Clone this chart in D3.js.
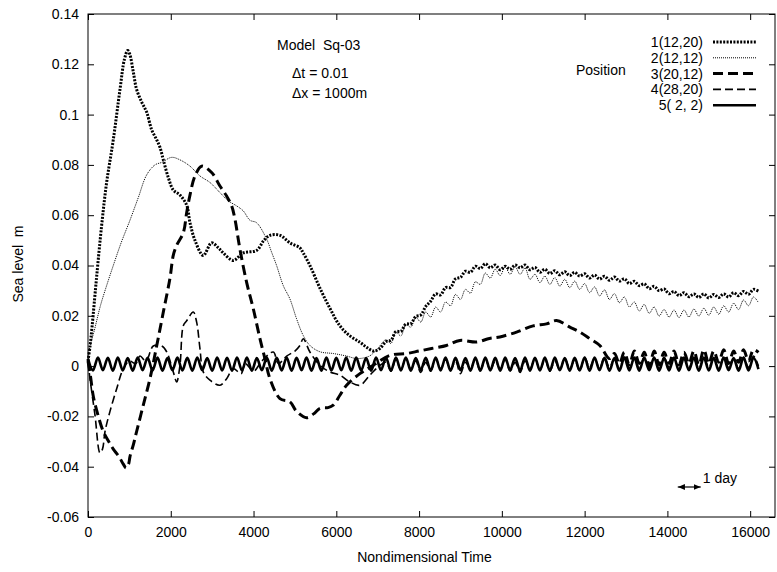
<!DOCTYPE html>
<html>
<head>
<meta charset="utf-8">
<script src="https://cdn.jsdelivr.net/npm/d3@7"></script>
<style>
    body { margin: 0; background: #fff; }
    svg text { font-family: "Liberation Sans", Arial, sans-serif; font-size: 14px; fill: #000; }
</style>
</head>
<body>
<div id="chart"></div>
<script>
// time step of the tidal wiggle samples (nondimensional time)
var DT = 120;

var xTicks = [0, 2000, 4000, 6000, 8000, 10000, 12000, 14000, 16000];
var yTicks = [-0.06, -0.04, -0.02, 0, 0.02, 0.04, 0.06, 0.08, 0.1, 0.12, 0.14];

var legendNames = ['1(12,20)', '2(12,12)', '3(20,12)', '4(28,20)', '5( 2, 2)'];

// series 1 : position (12,20)
var s1Head = [[0, 0.002], [50, 0.008], [100, 0.016], [200, 0.034], [330, 0.056], [450, 0.073], [611, 0.090],
    [773, 0.110], [880, 0.122], [960, 0.1255], [1010, 0.124], [1094, 0.117], [1175, 0.110], [1297, 0.105],
    [1417, 0.101], [1538, 0.094], [1659, 0.090], [1739, 0.087], [1820, 0.082], [1940, 0.075], [2061, 0.070],
    [2222, 0.068], [2384, 0.064], [2464, 0.057], [2585, 0.050], [2785, 0.044], [2987, 0.049], [3150, 0.047],
    [3268, 0.045], [3510, 0.042], [3752, 0.045], [4074, 0.046], [4250, 0.050], [4396, 0.052], [4638, 0.052],
    [4879, 0.049], [5121, 0.047], [5200, 0.045], [5362, 0.040], [5604, 0.031], [5845, 0.023], [6087, 0.016],
    [6329, 0.012], [6570, 0.0095], [6731, 0.0075], [6900, 0.006], [7053, 0.007]];
var s1TailStart = 7200;
var s1Tail = [0.0097, 0.0103, 0.0137, 0.0138, 0.0167, 0.0168, 0.0197, 0.0203, 0.0237, 0.0258,
    0.0287, 0.0283, 0.0312, 0.0313, 0.0347, 0.0353, 0.0377, 0.0373, 0.0397, 0.0388,
    0.0407, 0.0391, 0.0402, 0.0383, 0.0397, 0.0385, 0.0402, 0.0391, 0.0402, 0.0383,
    0.0392, 0.0373, 0.0385, 0.0368, 0.0379, 0.0363, 0.0375, 0.0360, 0.0373, 0.0358,
    0.0367, 0.0350, 0.0362, 0.0346, 0.0357, 0.0341, 0.0354, 0.0338, 0.0347, 0.0328,
    0.0337, 0.0320, 0.0327, 0.0308, 0.0317, 0.0300, 0.0307, 0.0288, 0.0297, 0.0280,
    0.0292, 0.0276, 0.0287, 0.0273, 0.0287, 0.0271, 0.0285, 0.0273, 0.0287, 0.0275,
    0.0292, 0.0280, 0.0297, 0.0286, 0.0305, 0.0298];

// series 2 : position (12,12)
var s2Head = [[0, 0.002], [50, 0.008], [150, 0.014], [300, 0.024], [450, 0.032], [611, 0.040], [800, 0.049],
    [1014, 0.058], [1215, 0.067], [1417, 0.076], [1618, 0.080], [1780, 0.081], [2021, 0.083], [2222, 0.082],
    [2464, 0.0795], [2705, 0.0756], [2947, 0.073], [3188, 0.069], [3390, 0.0657], [3591, 0.0637], [3752, 0.0617],
    [3913, 0.058], [4074, 0.057], [4316, 0.0505], [4436, 0.0453], [4557, 0.040], [4718, 0.032], [4879, 0.0267],
    [5040, 0.0188], [5200, 0.0122], [5362, 0.0082], [5604, 0.0057], [5926, 0.005], [6248, 0.004], [6500, 0.003],
    [6800, 0.004], [7000, 0.007]];
var s2TailStart = 7200;
var s2Tail = [0.0105, 0.0090, 0.0135, 0.0120, 0.0165, 0.0155, 0.0195, 0.0175, 0.0215, 0.0195,
    0.0235, 0.0215, 0.0255, 0.0240, 0.0285, 0.0265, 0.0305, 0.0290, 0.0335, 0.0325,
    0.0370, 0.0350, 0.0385, 0.0360, 0.0395, 0.0365, 0.0395, 0.0365, 0.0390, 0.0345,
    0.0365, 0.0332, 0.0358, 0.0325, 0.0352, 0.0318, 0.0345, 0.0312, 0.0338, 0.0305,
    0.0328, 0.0292, 0.0315, 0.0279, 0.0303, 0.0265, 0.0288, 0.0252, 0.0275, 0.0235,
    0.0255, 0.0219, 0.0245, 0.0210, 0.0235, 0.0199, 0.0225, 0.0195, 0.0223, 0.0193,
    0.0223, 0.0195, 0.0227, 0.0199, 0.0230, 0.0202, 0.0235, 0.0206, 0.0240, 0.0215,
    0.0250, 0.0225, 0.0263, 0.0240, 0.0275, 0.0252];

// series 3 : position (20,12)
var s3Head = [[0, 0.002], [60, -0.004], [128, -0.012], [250, -0.020], [370, -0.026], [500, -0.030], [611, -0.033],
    [750, -0.036], [853, -0.039], [920, -0.0405], [980, -0.039], [1014, -0.036], [1100, -0.031], [1175, -0.026],
    [1336, -0.0155], [1497, -0.005], [1659, 0.008], [1820, 0.0215], [1981, 0.035], [2060, 0.044], [2142, 0.048],
    [2303, 0.053], [2384, 0.061], [2464, 0.068], [2585, 0.0756], [2746, 0.0795], [2987, 0.077], [3188, 0.0716],
    [3350, 0.0676], [3471, 0.0637], [3551, 0.0584], [3671, 0.0465], [3833, 0.0333], [3994, 0.0228], [4155, 0.0109],
    [4275, 0.003], [4396, -0.005], [4638, -0.0129], [4879, -0.0142], [5040, -0.018], [5281, -0.0205],
    [5450, -0.019], [5604, -0.0168], [5800, -0.0165], [5926, -0.0155], [6087, -0.0116], [6248, -0.0076],
    [6570, -0.003], [6892, 0.0003], [7295, 0.0043], [7700, 0.005], [8000, 0.006], [8300, 0.007], [8662, 0.0082],
    [8986, 0.0102], [9389, 0.0096], [9700, 0.011], [9952, 0.0116], [10355, 0.0135], [10757, 0.016],
    [11079, 0.0168], [11320, 0.0181], [11643, 0.0155], [11884, 0.0135], [12125, 0.0109], [12367, 0.0082],
    [12600, 0.003]];
var s3TailStart = 12720;
var s3Tail = [0.0050, 0.0010, 0.0055, 0.0005, 0.0060, 0.0010, 0.0055, 0.0000, 0.0060, 0.0005,
    0.0055, 0.0010, 0.0060, 0.0005, 0.0055, 0.0010, 0.0060, 0.0005, 0.0065, 0.0010,
    0.0060, 0.0015, 0.0065, 0.0010, 0.0060, 0.0015, 0.0065, 0.0020, 0.0065, 0.0055];

// series 4 : position (28,20)
var s4Head = [[0, 0.002], [48, -0.005], [169, -0.0195], [290, -0.0345], [350, -0.033], [411, -0.026],
    [531, -0.018], [693, -0.009], [853, -0.001], [1000, 0.002], [1150, 0.001], [1256, 0.004], [1400, 0.002],
    [1578, 0.008], [1780, 0.008], [1900, 0.0057], [2061, -0.0023], [2142, -0.0063], [2222, 0.0003],
    [2303, 0.016], [2384, 0.018], [2544, 0.0215], [2625, 0.0175], [2705, 0.007], [2785, -0.0023],
    [2947, -0.0056], [3188, -0.0076], [3350, -0.005], [3510, -0.001], [3700, -0.003], [3800, 0.001],
    [4000, -0.002], [4200, 0.002], [4477, 0.0056], [4600, 0.001], [4800, 0.004], [5000, 0.006], [5121, 0.0082],
    [5200, 0.0109], [5362, 0.0056], [5604, 0.0003], [5845, -0.0023], [6087, -0.0036], [6329, -0.0063],
    [6570, -0.0076], [6812, -0.0036], [7053, 0.0003]];
var s4TailStart = 7200;
var s4Tail = [0.0015, -0.0020, 0.0025, -0.0015, 0.0030, -0.0010, 0.0020, -0.0025, 0.0015, -0.0020,
    0.0030, -0.0010, 0.0025, -0.0015, 0.0020, -0.0030, 0.0015, -0.0010, 0.0025, -0.0020,
    0.0030, -0.0015, 0.0020, -0.0010, 0.0025, -0.0020, 0.0015, -0.0025, 0.0020, -0.0010,
    0.0030, -0.0015, 0.0025, -0.0020, 0.0020, -0.0015, 0.0030, -0.0010, 0.0025, -0.0020,
    0.0035, -0.0005, 0.0030, -0.0010, 0.0035, -0.0005, 0.0030, -0.0010, 0.0035, -0.0005,
    0.0030, -0.0010, 0.0035, -0.0005, 0.0030, -0.0010, 0.0035, -0.0005, 0.0030, -0.0010,
    0.0035, -0.0005, 0.0030, -0.0010, 0.0035, -0.0005, 0.0030, -0.0010, 0.0035, -0.0005,
    0.0030, -0.0010, 0.0035, -0.0005, 0.0040, 0.0000];

// series 5 : position (2,2) - only the tide
var s5Head = [];
var s5TailStart = 0;
var s5Tail = [0.0030, -0.0017, 0.0034, -0.0016, 0.0033, -0.0018, 0.0034, -0.0017, 0.0032, -0.0018,
    0.0034, -0.0016, 0.0033, -0.0017, 0.0034, -0.0018, 0.0032, -0.0016, 0.0034, -0.0017,
    0.0033, -0.0018, 0.0034, -0.0016, 0.0032, -0.0018, 0.0034, -0.0017, 0.0033, -0.0018,
    0.0034, -0.0017, 0.0034, -0.0018, 0.0032, -0.0016, 0.0034, -0.0018, 0.0033, -0.0017,
    0.0034, -0.0018, 0.0033, -0.0016, 0.0034, -0.0018, 0.0032, -0.0018, 0.0034, -0.0017,
    0.0033, -0.0016, 0.0034, -0.0018, 0.0034, -0.0017, 0.0032, -0.0018, 0.0034, -0.0016,
    0.0033, -0.0018, 0.0034, -0.0017, 0.0034, -0.0018, 0.0032, -0.0016, 0.0033, -0.0018,
    0.0034, -0.0017, 0.0034, -0.0018, 0.0033, -0.0016, 0.0032, -0.0018, 0.0034, -0.0018,
    0.0034, -0.0017, 0.0033, -0.0018, 0.0034, -0.0016, 0.0032, -0.0018, 0.0034, -0.0018,
    0.0033, -0.0017, 0.0034, -0.0018, 0.0034, -0.0016, 0.0032, -0.0018, 0.0033, -0.0017,
    0.0034, -0.0018, 0.0034, -0.0016, 0.0033, -0.0018, 0.0032, -0.0018, 0.0034, -0.0017,
    0.0034, -0.0018, 0.0033, -0.0016, 0.0034, -0.0018, 0.0032, -0.0017, 0.0034, -0.0018,
    0.0033, -0.0016, 0.0034, -0.0018, 0.0034, -0.0017, 0.0033, -0.0018, 0.0034, -0.0016,
    0.0032, -0.0018, 0.0034, -0.0017, 0.0033, -0.0012];

// one day in nondimensional time (for the scale arrow)
var DAY = 555;
var dayArrowStart = 14250;

var margin = { top: 14, right: 2, bottom: 55, left: 88 },
    W = 777, H = 572,
    width = W - margin.left - margin.right,
    height = H - margin.top - margin.bottom;

var svg = d3.select('#chart').append('svg')
    .attr('width', W)
    .attr('height', H);

var g = svg.append('g')
    .attr('transform', 'translate(' + margin.left + ',' + margin.top + ')');

var x = d3.scaleLinear().domain([0, 16600]).range([0, width]);
var y = d3.scaleLinear().domain([-0.06, 0.14]).range([height, 0]);

function fmtY(d) { return d === 0 ? '0' : String(+d.toFixed(2)); }

// axes, gnuplot style: ticks pointing in, mirrored on the top and right
g.append('g')
    .attr('transform', 'translate(0,' + height + ')')
    .call(d3.axisBottom(x).tickValues(xTicks).tickSize(-6).tickPadding(10).tickFormat(d3.format('d')));
g.append('g')
    .call(d3.axisTop(x).tickValues(xTicks).tickSize(-6).tickFormat(''));
g.append('g')
    .call(d3.axisLeft(y).tickValues(yTicks).tickSize(-6).tickPadding(9).tickFormat(fmtY));
g.append('g')
    .attr('transform', 'translate(' + width + ',0)')
    .call(d3.axisRight(y).tickValues(yTicks).tickSize(-6).tickFormat(''));

g.selectAll('.domain').remove();
g.selectAll('.tick line').attr('stroke', '#000');
g.selectAll('.tick text').style('font-size', '14px').style('font-family', '"Liberation Sans", Arial, sans-serif');

g.append('rect')
    .attr('width', width)
    .attr('height', height)
    .attr('fill', 'none')
    .attr('stroke', '#000')
    .attr('stroke-width', 1);

// axis titles
svg.append('text')
    .attr('x', margin.left + width / 2 - 7)
    .attr('y', 562)
    .attr('text-anchor', 'middle')
    .text('Nondimensional Time');

svg.append('text')
    .attr('transform', 'translate(23,264) rotate(-90)')
    .attr('text-anchor', 'middle')
    .attr('xml:space', 'preserve')
    .style('white-space', 'pre')
    .text('Sea level  m');

// series
var styles = [
    { w: 3, dash: '2 1.4' },
    { w: 1, dash: '1 1' },
    { w: 3, dash: '10 5' },
    { w: 1.6, dash: '8 4' },
    { w: 2.6, dash: null }
];

function build(head, tailStart, tail) {
    return head.concat(tail.map(function (v, i) { return [tailStart + i * DT, v]; }));
}

var series = [
    build(s1Head, s1TailStart, s1Tail),
    build(s2Head, s2TailStart, s2Tail),
    build(s3Head, s3TailStart, s3Tail),
    build(s4Head, s4TailStart, s4Tail),
    build(s5Head, s5TailStart, s5Tail)
];

var line = d3.line()
    .x(function (d) { return x(d[0]); })
    .y(function (d) { return y(d[1]); })
    .curve(d3.curveCatmullRom.alpha(0.5));

// draw the tide line first so the others sit on top
[4, 3, 2, 1, 0].forEach(function (k) {
    g.append('path')
        .datum(series[k])
        .attr('d', line)
        .attr('fill', 'none')
        .attr('stroke', '#000')
        .attr('stroke-width', styles[k].w)
        .attr('stroke-dasharray', styles[k].dash);
});

// annotation
var note = svg.append('g');
note.append('text').attr('x', 277).attr('y', 50).attr('xml:space', 'preserve').style('white-space', 'pre').text('Model  Sq-03');
note.append('text').attr('x', 292).attr('y', 78).text('\u0394t = 0.01');
note.append('text').attr('x', 292).attr('y', 98).text('\u0394x = 1000m');

// legend
var leg = svg.append('g');
leg.append('text').attr('x', 576).attr('y', 75).text('Position');
legendNames.forEach(function (name, i) {
    var cy = 42 + i * 15.8;
    leg.append('text')
        .attr('x', 703)
        .attr('y', cy + 5)
        .attr('text-anchor', 'end')
        .attr('xml:space', 'preserve')
        .style('white-space', 'pre')
        .text(name);
    leg.append('line')
        .attr('x1', 713).attr('x2', 756)
        .attr('y1', cy).attr('y2', cy)
        .attr('stroke', '#000')
        .attr('stroke-width', styles[i].w)
        .attr('stroke-dasharray', styles[i].dash);
});

// one day arrow
var defs = svg.append('defs');
defs.append('marker')
    .attr('id', 'ah')
    .attr('viewBox', '0 0 10 10')
    .attr('refX', 10).attr('refY', 5)
    .attr('markerWidth', 6).attr('markerHeight', 6)
    .attr('orient', 'auto-start-reverse')
    .append('path').attr('d', 'M0,1 L10,5 L0,9 Z').attr('fill', '#000');

var ay = 487;
svg.append('line')
    .attr('x1', margin.left + x(dayArrowStart))
    .attr('x2', margin.left + x(dayArrowStart + DAY))
    .attr('y1', ay).attr('y2', ay)
    .attr('stroke', '#000')
    .attr('stroke-width', 1.2)
    .attr('marker-start', 'url(#ah)')
    .attr('marker-end', 'url(#ah)');
svg.append('text')
    .attr('x', margin.left + x(dayArrowStart + DAY) + 2)
    .attr('y', 483)
    .text('1 day');
</script>
</body>
</html>
